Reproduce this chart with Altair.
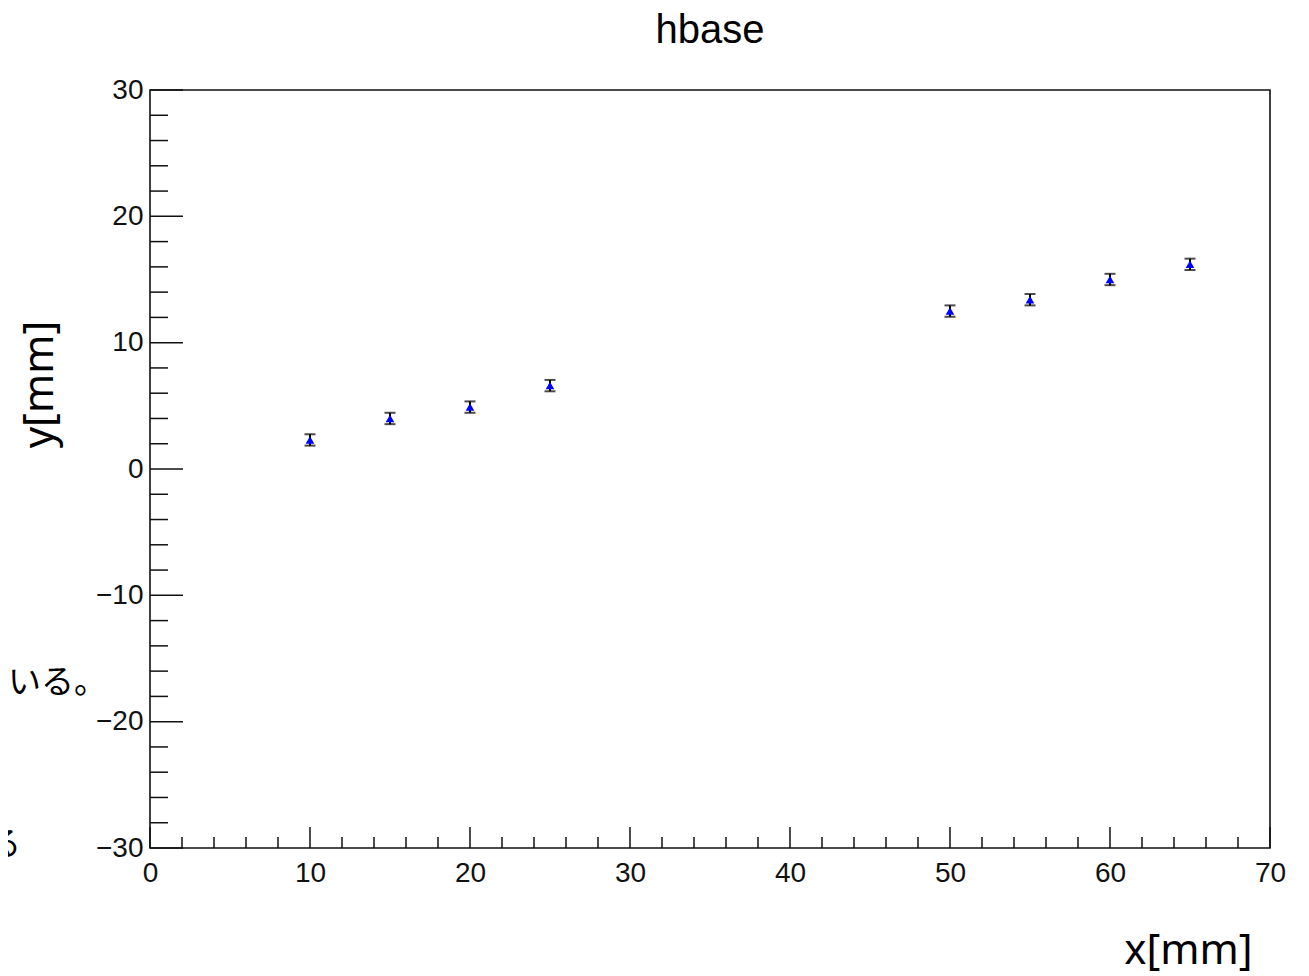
import altair as alt
import pandas as pd

# ---- data ----
x_vals = [10, 15, 20, 25, 50, 55, 60, 65]
y_vals = [2.3, 4.0, 4.9, 6.6, 12.5, 13.4, 15.0, 16.2]
y_err = [0.45, 0.45, 0.45, 0.45, 0.45, 0.45, 0.45, 0.45]

x_major = [0, 10, 20, 30, 40, 50, 60, 70]
x_minor = [v for v in range(0, 71, 2) if v % 10 != 0]
y_major = [-30, -20, -10, 0, 10, 20, 30]
y_minor = [v for v in range(-30, 31, 2) if v % 10 != 0]

title_text = "hbase"
x_title = "x[mm]"
y_title = "y[mm]"
side_fragments = ["ている。", "る"]

W, H = 1120, 758

df = pd.DataFrame({
    "x": x_vals,
    "y": y_vals,
    "lo": [v - e for v, e in zip(y_vals, y_err)],
    "hi": [v + e for v, e in zip(y_vals, y_err)],
})

xs = alt.Scale(domain=[0, 70], nice=False, zero=False)
ys = alt.Scale(domain=[-30, 30], nice=False, zero=False)

label_font = "Liberation Sans"
title_font = "Noto Sans"

x_axis = alt.Axis(
    values=x_major, format="d", title=x_title, grid=False, ticks=False, tickSize=0,
    domain=False, labelFont=label_font, labelFontSize=28, labelColor="#111",
    labelPadding=11, labelFlush=False, labelOverlap=False,
    titleFont=title_font, titleFontSize=42, titleFontWeight="normal", titleColor="#000",
    titleX=1038, titleY=102, titleAlign="center", titleBaseline="middle",
)
y_axis = alt.Axis(
    values=y_major, format="d", title=y_title, grid=False, ticks=False, tickSize=0,
    domain=False, labelFont=label_font, labelFontSize=28, labelColor="#111",
    labelPadding=7, labelFlush=False, labelOverlap=False,
    titleFont=title_font, titleFontSize=42, titleFontWeight="normal", titleColor="#000",
    titleX=-111, titleY=294, titleAlign="center", titleBaseline="middle",
)


def X(field="x"):
    return alt.X(f"{field}:Q", scale=xs, axis=x_axis)


def Y(field="y"):
    return alt.Y(f"{field}:Q", scale=ys, axis=y_axis)


tick_color = "#111"
tick_w = 1.5

xmaj = alt.Chart(pd.DataFrame({"x": x_major})).mark_rule(color=tick_color, strokeWidth=tick_w).encode(
    x=X(), y=alt.value(H), y2=alt.value(H - 21))
xmin = alt.Chart(pd.DataFrame({"x": x_minor})).mark_rule(color=tick_color, strokeWidth=tick_w).encode(
    x=X(), y=alt.value(H), y2=alt.value(H - 11))
ymaj = alt.Chart(pd.DataFrame({"y": y_major})).mark_rule(color=tick_color, strokeWidth=tick_w).encode(
    y=Y(), x=alt.value(0), x2=alt.value(33))
ymin = alt.Chart(pd.DataFrame({"y": y_minor})).mark_rule(color=tick_color, strokeWidth=tick_w).encode(
    y=Y(), x=alt.value(0), x2=alt.value(18))

base = alt.Chart(df)
bars = base.mark_rule(color="#000", strokeWidth=2).encode(x=X(), y=Y("lo"), y2="hi:Q")
cap_lo = base.mark_tick(color="#000", orient="horizontal", size=11, thickness=2).encode(x=X(), y=Y("lo"))
cap_hi = base.mark_tick(color="#000", orient="horizontal", size=11, thickness=2).encode(x=X(), y=Y("hi"))
pts = base.mark_point(shape="triangle-up", filled=True, color="#0000ff", size=75, opacity=1).encode(
    x=X(), y=Y())

title_mark = alt.Chart(pd.DataFrame({"t": [title_text]})).mark_text(
    font=label_font, fontSize=40, align="center", baseline="alphabetic", color="#000"
).encode(text="t:N", x=alt.value(W / 2), y=alt.value(-47))

frag1 = alt.Chart(pd.DataFrame({"t": [side_fragments[0]]})).mark_text(
    font="Noto Sans CJK JP", fontSize=33, align="left", baseline="middle", color="#000"
).encode(text="t:N", x=alt.value(-175), y=alt.value(593))
frag2 = alt.Chart(pd.DataFrame({"t": [side_fragments[1]]})).mark_text(
    font="Noto Sans CJK JP", fontSize=33, align="left", baseline="middle", color="#000"
).encode(text="t:N", x=alt.value(-162), y=alt.value(755))

chart = alt.layer(xmaj, xmin, ymaj, ymin, bars, cap_lo, cap_hi, pts, title_mark, frag1, frag2).properties(
    width=W, height=H,
    padding={"left": 142, "top": 82, "right": 31, "bottom": 126},
    autosize="none",
    background="white",
).configure_view(stroke="#111", strokeWidth=1.6)

chart.save("out.html", embed_options={"renderer": "svg", "actions": False})
